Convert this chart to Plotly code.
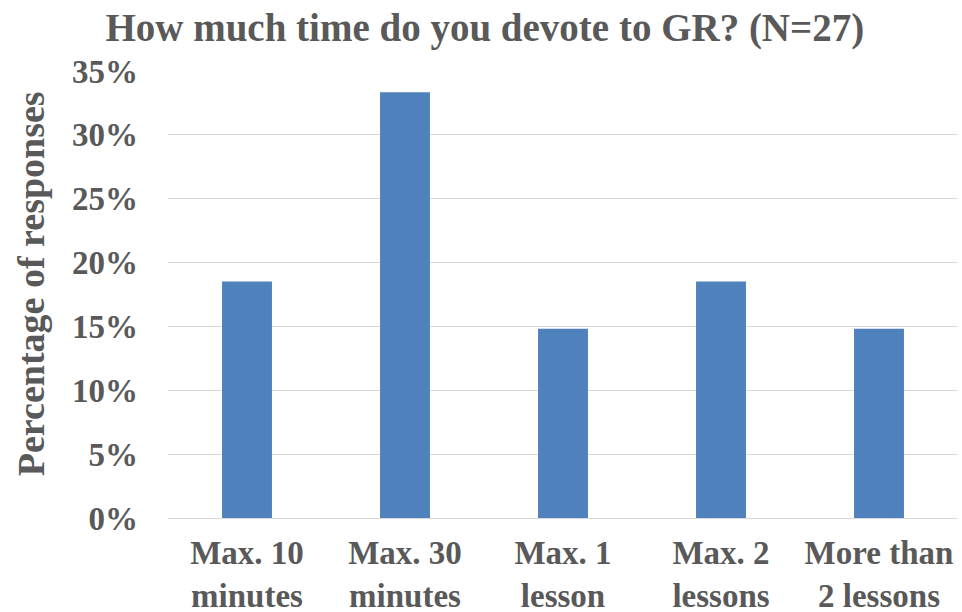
import plotly.graph_objects as go

categories = ["Max. 10<br>minutes", "Max. 30<br>minutes", "Max. 1<br>lesson",
              "Max. 2<br>lessons", "More than<br>2 lessons"]
# responses out of N=27
counts = [5, 9, 4, 5, 4]
n_total = 27
shares = [c / n_total for c in counts]
y_ticks = [0, 0.05, 0.10, 0.15, 0.20, 0.25, 0.30, 0.35]

text_color = "#595959"
serif = "Liberation Serif, Times New Roman, serif"

fig = go.Figure()
fig.add_trace(go.Bar(
    x=categories,
    y=shares,
    marker=dict(color="#4F81BD", line=dict(width=0)),
))

fig.update_layout(
    width=962,
    height=612,
    paper_bgcolor="white",
    plot_bgcolor="white",
    margin=dict(l=168, r=4, t=71, b=94),
    bargap=0.684,
    showlegend=False,
    title=dict(
        text="<b>How much time do you devote to GR? (N=27)</b>",
        x=0.504, xanchor="center", y=0.955, yanchor="middle",
        font=dict(family=serif, size=39, color=text_color),
    ),
    font=dict(family=serif, color=text_color),
)

# y axis title sits slightly above the plot centre in the reference
fig.add_annotation(
    text="<b>Percentage of responses</b>",
    xref="paper", yref="paper", x=0, y=0.523,
    xanchor="center", yanchor="middle", xshift=-137,
    textangle=-90, showarrow=False,
    font=dict(family=serif, size=38, color=text_color),
)

fig.update_xaxes(
    automargin=False,
    showgrid=False,
    showline=True, linecolor="#d9d9d9", linewidth=1,
    ticks="",
    tickfont=dict(family=serif, size=33, color=text_color, weight="bold"),
    ticklabelstandoff=5,
)

fig.update_yaxes(
    automargin=False,
    range=[0, 0.35],
    tickvals=y_ticks,
    tickformat=".0%",
    showgrid=True, gridcolor="#d9d9d9", gridwidth=1,
    zeroline=False,
    showline=False,
    ticks="",
    tickfont=dict(family=serif, size=33, color=text_color, weight="bold"),
    ticklabelstandoff=29,
)

# drop the browser's default page margin so the figure fills the window
fig.write_html("out.html",
               config={"displayModeBar": False},
               post_script="document.body.style.margin='0';"
                           "document.body.style.overflow='hidden';")
